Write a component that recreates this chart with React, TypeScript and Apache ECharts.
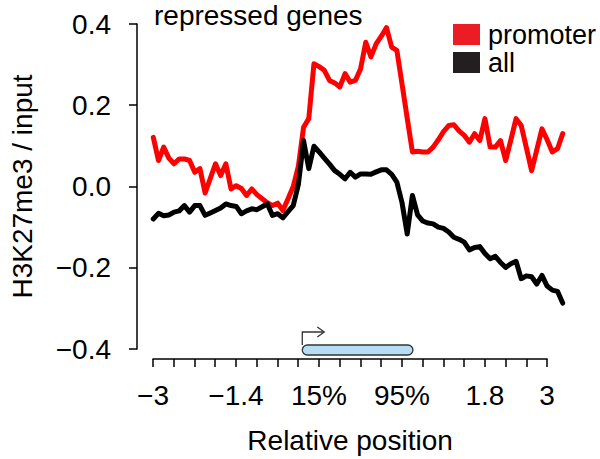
import React, { useEffect, useRef } from "react";
import * as echarts from "echarts";

// Bin index along the meta-gene profile (upstream kb, gene body %, downstream kb)
const binIndex: number[] = Array.from({ length: 80 }, (_, i) => i);

const promoter: number[] = [
  0.121, 0.064, 0.097, 0.07, 0.056, 0.068, 0.068, 0.064, 0.035, 0.044,
  -0.016, 0.02, 0.056, 0.027, 0.056, -0.006, 0.002, -0.005, -0.022, -0.006,
  -0.02, -0.03, -0.04, -0.047, -0.041, -0.059, -0.03, 0.0, 0.05, 0.146,
  0.167, 0.302, 0.295, 0.286, 0.261, 0.255, 0.245, 0.278, 0.257, 0.261,
  0.29, 0.355, 0.319, 0.351, 0.37, 0.391, 0.343, 0.335, 0.252, 0.168,
  0.085, 0.087, 0.085, 0.085, 0.097, 0.115, 0.135, 0.15, 0.152, 0.137,
  0.126, 0.109, 0.13, 0.113, 0.167, 0.097, 0.097, 0.113, 0.064, 0.115,
  0.167, 0.15, 0.095, 0.039, 0.09, 0.142, 0.115, 0.085, 0.093, 0.13,
];

const allGenes: number[] = [
  -0.08, -0.066, -0.072, -0.07, -0.063, -0.06, -0.047, -0.063, -0.047, -0.047,
  -0.071, -0.065, -0.059, -0.053, -0.043, -0.047, -0.049, -0.067, -0.06, -0.055,
  -0.057, -0.05, -0.043, -0.071, -0.067, -0.077, -0.062, -0.047, 0.005, 0.113,
  0.044, 0.099, 0.085, 0.07, 0.055, 0.039, 0.03, 0.019, 0.035, 0.023,
  0.031, 0.031, 0.03, 0.036, 0.041, 0.041, 0.03, 0.011, -0.04, -0.117,
  -0.022, -0.07, -0.085, -0.09, -0.092, -0.1, -0.103, -0.112, -0.125, -0.13,
  -0.137, -0.156, -0.15, -0.148, -0.165, -0.178, -0.172, -0.187, -0.199, -0.19,
  -0.184, -0.227, -0.22, -0.222, -0.24, -0.219, -0.245, -0.255, -0.258, -0.287,
];

const xTickPositions: number[] = [0, 16, 32, 48, 64, 76];
const xTickLabels: string[] = ["\u22123", "\u22121.4", "15%", "95%", "1.8", "3"];

const geneStartBin = 28.75;
const geneEndBin = 50.1;

const FONT = "Liberation Sans, Arial, Helvetica, sans-serif";
const FS = 28;

export default function App() {
  const ref = useRef<HTMLDivElement>(null);

  useEffect(() => {
    if (!ref.current) return;
    const chart = echarts.init(ref.current, undefined, { renderer: "svg" });
    const step = 5.186;
    const left = 153;
    const dataRight = 600 - (left + 79 * step);
    const axisRight = 600 - (left + 76 * step);

    chart.setOption({
      animation: false,
      backgroundColor: "#ffffff",
      textStyle: { fontFamily: FONT },
      title: {
        text: "repressed genes",
        left: 154,
        top: 1,
        padding: 0,
        textStyle: { fontSize: FS, fontWeight: "normal", color: "#000", fontFamily: FONT },
      },
      legend: {
        orient: "vertical",
        left: 453,
        top: 21,
        padding: 0,
        itemWidth: 27,
        itemHeight: 21,
        itemGap: 1,
        icon: "rect",
        textStyle: { fontSize: 27, color: "#000", fontFamily: FONT, padding: [0, 0, 6, 3] },
        data: [
          { name: "promoter", itemStyle: { color: "#EC1C24" } },
          { name: "all", itemStyle: { color: "#231F20" } },
        ],
      },
      grid: [
        { left, right: dataRight, top: 24, bottom: 110 },
        { left, right: axisRight, top: 24, bottom: 110 },
      ],
      xAxis: [
        { type: "value", gridIndex: 0, min: 0, max: 79, show: false },
        {
          type: "value",
          gridIndex: 1,
          min: 0,
          max: 76,
          interval: 4,
          position: "bottom",
          offset: 14,
          axisLine: { show: true, onZero: false, lineStyle: { color: "#000", width: 1.5 } },
          axisTick: { show: true, length: 8, lineStyle: { color: "#000", width: 1.5 } },
          splitLine: { show: false },
          axisLabel: {
            show: true,
            margin: 22,
            fontSize: FS,
            color: "#000",
            fontFamily: FONT,
            showMinLabel: true,
            showMaxLabel: true,
            formatter: (v: number) => {
              const k = xTickPositions.indexOf(Math.round(v));
              return k >= 0 ? xTickLabels[k] : "";
            },
          },
          name: "Relative position",
          nameLocation: "middle",
          nameGap: 67,
          nameTextStyle: { fontSize: FS, color: "#000", fontFamily: FONT },
        },
      ],
      yAxis: [
        {
          type: "value",
          gridIndex: 0,
          min: -0.4,
          max: 0.4,
          interval: 0.2,
          offset: 16.3,
          axisLine: { show: true, onZero: false, lineStyle: { color: "#000", width: 1.5 } },
          axisTick: { show: true, length: 8, lineStyle: { color: "#000", width: 1.5 } },
          splitLine: { show: false },
          axisLabel: {
            margin: 26,
            fontSize: FS,
            color: "#000",
            fontFamily: FONT,
            formatter: (v: number) => (v < -1e-9 ? "\u2212" : "") + Math.abs(v).toFixed(1),
          },
          name: "H3K27me3 / input",
          nameLocation: "middle",
          nameGap: 101,
          nameTextStyle: { fontSize: FS, color: "#000", fontFamily: FONT },
        },
        { type: "value", gridIndex: 1, min: -0.4, max: 0.4, show: false },
      ],
      series: [
        {
          name: "promoter",
          type: "line",
          xAxisIndex: 0,
          yAxisIndex: 0,
          symbol: "none",
          data: binIndex.map((x, i) => [x, promoter[i]]),
          lineStyle: { color: "#FF0000", width: 5, cap: "round", join: "round" },
          itemStyle: { color: "#FF0000" },
        },
        {
          name: "all",
          type: "line",
          xAxisIndex: 0,
          yAxisIndex: 0,
          symbol: "none",
          data: binIndex.map((x, i) => [x, allGenes[i]]),
          lineStyle: { color: "#000000", width: 5, cap: "round", join: "round" },
          itemStyle: { color: "#000000" },
        },
      ],
    });

    const p0 = chart.convertToPixel({ gridIndex: 0 }, [geneStartBin, -0.4]) as number[];
    const p1 = chart.convertToPixel({ gridIndex: 0 }, [geneEndBin, -0.4]) as number[];
    const xs = p0[0];
    const xe = p1[0];
    const barTop = p0[1] - 4;
    const barH = 10;
    const arrowY = barTop - 13;
    chart.setOption({
      graphic: [
        {
          type: "rect",
          shape: { x: xs, y: barTop, width: xe - xs, height: barH, r: 5 },
          style: { fill: "#B5DDF6", stroke: "#333333", lineWidth: 1.3 },
          z: 10,
        },
        {
          type: "polyline",
          shape: { points: [[xs, barTop], [xs, arrowY], [xs + 21, arrowY]] },
          style: { stroke: "#333333", lineWidth: 1.3, fill: null },
          z: 10,
        },
        {
          type: "polyline",
          shape: { points: [[xs + 15, arrowY - 5], [xs + 22, arrowY], [xs + 15, arrowY + 5]] },
          style: { stroke: "#333333", lineWidth: 1.3, fill: null },
          z: 10,
        },
      ],
    });

    return () => chart.dispose();
  }, []);

  return (
    <div
      ref={ref}
      style={{ position: "absolute", left: 0, top: 0, width: 600, height: 459 }}
    />
  );
}
